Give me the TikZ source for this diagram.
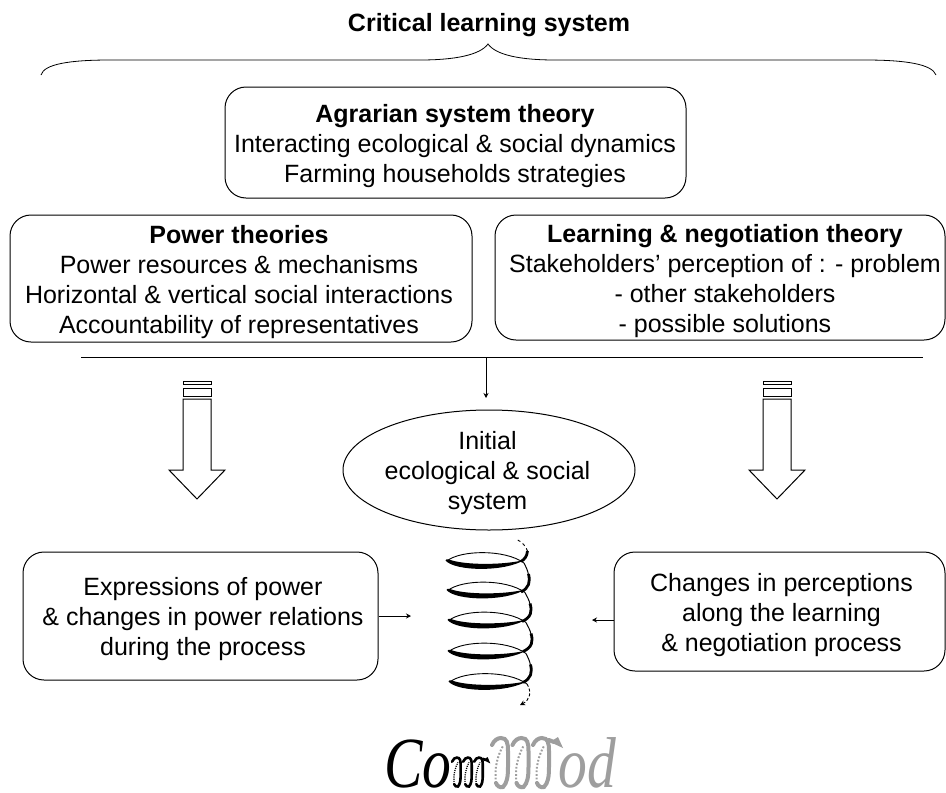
\documentclass[tikz,border=0pt]{standalone}
\usepackage{fontspec}
\setmainfont{Liberation Sans}
\newfontfamily\logofont{Liberation Serif}
\usetikzlibrary{shapes.geometric,arrows.meta}
\definecolor{logogrey}{gray}{0.62}
\newcommand{\ts}{\rule{0pt}{20pt}}
\newcommand{\bs}{\rule[-6pt]{0pt}{6pt}}
\tikzset{
  box/.style={draw,rounded corners=21pt,line width=1pt,inner sep=0pt},
  txt/.style={align=center,font=\fontsize{25}{30}\selectfont,inner sep=0pt},
  bigarrow/.style={draw,line width=1pt,fill=white},
  thin arrow/.style={line width=0.8pt,-{Stealth[length=5pt,width=5pt]}},
  logotext/.style={inner sep=0pt,anchor=base west,font=\logofont\itshape\fontsize{72}{72}\selectfont},
}
\newcommand{\logoarches}[4]{% colour, stroke, dot width, dash length
  \foreach \k in {0,20.5,41}{
    \begin{scope}[shift={(\k,0)}]
      \draw[#1,line width=#2,line cap=round] (0,8) .. controls (2,3) and (6,1) .. (9,1)
        .. controls (15,1) and (16,6) .. (16,14) -- (16,30)
        .. controls (16,40) and (15,46) .. (11,50) .. controls (8,51) and (5,49) .. (4,46);
      \draw[#1,line width=#3,dash pattern=on #4 off #4] (4,46) .. controls (2,30) and (6,18) .. (11,9);
    \end{scope}
  }
  \draw[#1,line width=#2,line cap=round] (57,3) -- (62,5);
  \fill[#1] (66,0) -- (58,5) -- (71,11) -- cycle;
}
\begin{document}
\begin{tikzpicture}[x=1pt,y=-1pt]
\useasboundingbox (0,0) rectangle (946,793);
% title and brace
\node[inner sep=0pt,anchor=base,font=\bfseries\fontsize{25}{28}\selectfont] (title) at (489,31) {Critical learning system};
\coordinate (braceL) at (41,75);
\coordinate (braceR) at (936,75);
\coordinate (braceT) at (488,44);
\draw[line width=0.8pt] (braceL) .. controls (44,64) and (70,60) .. (110,60) -- (420,60)
  .. controls (455,60) and (480,55) .. (braceT)
  .. controls (496,55) and (520,60) .. (555,60) -- (865,60)
  .. controls (905,60) and (932,64) .. (braceR);
% boxes
\node[box,minimum width=461,minimum height=111] (agr) at (455.5,142.5) {};
\node[txt] (agrT) at (455,145) {\ts\textbf{Agrarian system theory}\\Interacting ecological \& social dynamics\\Farming households strategies\bs};
\node[box,minimum width=462,minimum height=127] (pow) at (241,278.5) {};
\node[txt] (powT) at (239,281) {\ts\textbf{Power theories}\\Power resources \& mechanisms\\Horizontal \& vertical social interactions\\Accountability of representatives\bs};
\node[box,minimum width=450,minimum height=125] (lrn) at (720,277.5) {};
\node[txt] (lrnT) at (725,280) {\ts\textbf{Learning \& negotiation theory}\\Stakeholders’ perception of : - problem\\- other stakeholders\\- possible solutions\bs};
% rule
\coordinate (ruleL) at (81,357);
\coordinate (ruleR) at (923,357);
\draw[line width=1pt] (ruleL) -- (ruleR);
\coordinate (ruleM) at (486,357);
\coordinate (ruleA) at (486,398);
\draw[thin arrow] (ruleM) -- (ruleA);
% ellipse
\node[draw,ellipse,line width=1pt,minimum width=292,minimum height=120,inner sep=0pt] (init) at (489,470) {};
\node[txt] (initT) at (487.5,472) {\ts Initial\\ecological \& social\\system\bs};
% block arrows
\foreach \cx in {197,777}{
  \draw[bigarrow] (\cx-14,381) rectangle (\cx+14,384.5);
  \draw[bigarrow] (\cx-14,388) rectangle (\cx+14,396);
  \draw[bigarrow] (\cx-14,399) -- (\cx+14,399) -- (\cx+14,470) -- (\cx+28,470) -- (\cx,499) -- (\cx-28,470) -- (\cx-14,470) -- cycle;
}
% lower boxes
\node[box,minimum width=355,minimum height=128] (expr) at (200.5,616) {};
\node[txt] (exprT) at (203,618) {\ts Expressions of power\\\& changes in power relations\\during the process\bs};
\node[box,minimum width=331,minimum height=119] (chg) at (779.5,611.5) {};
\node[txt] (chgT) at (781.5,614) {\ts Changes in perceptions\\along the learning\\\& negotiation process\bs};
% helix
\coordinate (hxL) at (411,616);
\coordinate (hxR) at (592,620);
\draw[thin arrow] (hxL -| expr.east) -- (hxL);
\draw[thin arrow] (hxR -| chg.west) -- (hxR);
\foreach \dx/\dy in {0/0, 1/29.5, 2/59.5, 2/90.5, 3/121}{
  \begin{scope}[shift={(\dx,\dy)}]
    \draw[line width=0.9pt] (447,561) .. controls (460,550) and (505,549) .. (524,563);
    \fill (445.5,560.5) .. controls (455,571.5) and (505,572) .. (524,560)
       .. controls (505,565) and (465,565.5) .. (449,559.5) .. controls (447,559) and (445.5,559.5) .. (445.5,560.5) -- cycle;
  \end{scope}
}
\draw[line width=2.8pt] (521,561.5) .. controls (525,559) and (527,556) .. (527.5,551);
\foreach \dx/\dy/\bx in {0/0/1,1/29.5/2,2/59.5/2,2/90.5/1}{
  \begin{scope}[shift={(\dx,\dy)}]
    \draw[line width=1pt] (524,563) .. controls (526,567) and (527.5+\bx/2,571) .. (528+\bx/2,575);
    \draw[line width=2.8pt] (528+\bx/2,574) .. controls (529.5+\bx,582) and (528+\bx,588) .. (521,592);
  \end{scope}
}
\draw[line width=0.9pt,dash pattern=on 3pt off 2pt,-{Stealth[length=5pt,width=5pt]}] (527,684) .. controls (532,692) and (530,700) .. (520,705);
\draw[line width=0.9pt,dash pattern=on 3pt off 3pt] (527.5,551) .. controls (526,546) and (522,542) .. (516,539);
% logo
\node[logotext] (co) at (384,787) {\scalebox{0.8}[1]{Co}};
\node[logotext,text=logogrey] (od) at (558,787) {\scalebox{0.8}[1]{od}};
\begin{scope}[shift={(492,737)}]
  \logoarches{logogrey}{4pt}{2pt}{1.8pt}
\end{scope}
\begin{scope}[shift={(452,757)},xscale=0.54,yscale=0.59]
  \logoarches{black}{2.6pt}{1.3pt}{1.1pt}
\end{scope}
\end{tikzpicture}
\end{document}
